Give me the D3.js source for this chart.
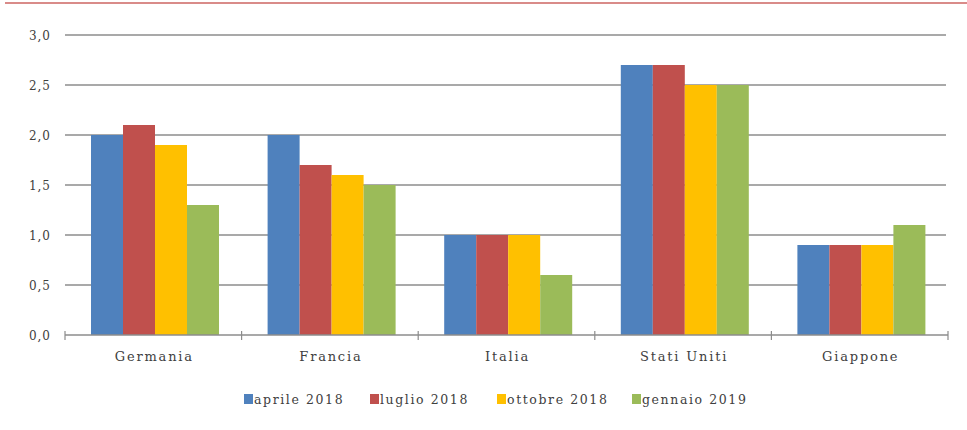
<!DOCTYPE html>
<html><head><meta charset="utf-8">
<script src="https://cdn.jsdelivr.net/npm/d3@7"></script>
<style>
body{margin:0;background:#fff;}
text{font-family:"DejaVu Serif",serif;fill:#404040;}
</style></head>
<body><svg id="c" width="967" height="430"></svg>
<script>
const categories = ["Germania","Francia","Italia","Stati Uniti","Giappone"];
const seriesNames = ["aprile 2018","luglio 2018","ottobre 2018","gennaio 2019"];
const aprile2018 = [2.0,2.0,1.0,2.7,0.9];
const luglio2018 = [2.1,1.7,1.0,2.7,0.9];
const ottobre2018 = [1.9,1.6,1.0,2.5,0.9];
const gennaio2019 = [1.3,1.5,0.6,2.5,1.1];
const yTicks = [0,0.5,1,1.5,2,2.5,3];
const colors = ["#4F81BD","#C0504D","#FFC000","#9BBB59"];
const seriesValues = [aprile2018,luglio2018,ottobre2018,gennaio2019];

(function(){
const svg = d3.select("#c");
// top red rule
svg.append("line").attr("x1",5).attr("x2",967).attr("y1",3).attr("y2",3)
  .attr("stroke","#d98b89").attr("stroke-width",2);

const pLeft=65,pRight=948,pTop=35,pBottom=335;
const x0 = d3.scaleBand().domain(categories).range([pLeft,pRight]).paddingInner(0).paddingOuter(0);
const x1 = d3.scaleBand().domain(seriesNames).range([26, x0.bandwidth()-22.6]);
const y = d3.scaleLinear().domain([0,3]).range([pBottom,pTop]);

// gridlines
svg.append("g").selectAll("line").data(yTicks.filter(d=>d>0)).join("line")
  .attr("x1",pLeft).attr("x2",pRight-2).attr("y1",d=>y(d)).attr("y2",d=>y(d))
  .attr("stroke","#8c8c8c").attr("stroke-width",1.6);

// y labels
svg.append("g").selectAll("text").data(yTicks).join("text")
  .attr("x",51).attr("y",d=>y(d)+4.5).attr("text-anchor","end")
  .style("font-size","12px").style("letter-spacing","1px")
  .text(d=>d3.format(".1f")(d).replace(".",","));

// bars
const g = svg.append("g");
seriesValues.forEach((vals,si)=>{
  g.selectAll(null).data(vals).join("rect")
    .attr("x",(d,i)=>x0(categories[i])+x1(seriesNames[si]))
    .attr("width",x1.bandwidth())
    .attr("y",d=>y(d)).attr("height",d=>y(0)-y(d))
    .attr("fill",colors[si]);
});

// x axis
const xa = svg.append("g");
xa.append("line").attr("x1",pLeft).attr("x2",pRight).attr("y1",pBottom).attr("y2",pBottom)
  .attr("stroke","#8c8c8c").attr("stroke-width",1.6);
const tickXs = categories.map(c=>x0(c)).concat([pRight]);
xa.selectAll("line.t").data(tickXs).join("line").attr("class","t")
  .attr("x1",d=>d).attr("x2",d=>d).attr("y1",pBottom-4).attr("y2",pBottom+5)
  .attr("stroke","#8c8c8c").attr("stroke-width",1.2);
xa.selectAll("text").data(categories).join("text")
  .attr("x",d=>x0(d)+x0.bandwidth()/2+1).attr("y",361).attr("text-anchor","middle")
  .style("font-size","13px").style("letter-spacing","1.8px").text(d=>d);

// legend
const legX = [244,370,497,632];
const lg = svg.append("g");
seriesNames.forEach((s,i)=>{
  lg.append("rect").attr("x",legX[i]).attr("y",394).attr("width",9).attr("height",10).attr("fill",colors[i]);
  lg.append("text").attr("x",legX[i]+10).attr("y",404).style("font-size","12.5px")
    .style("letter-spacing","1.6px").text(s);
});
})();
</script></body></html>
